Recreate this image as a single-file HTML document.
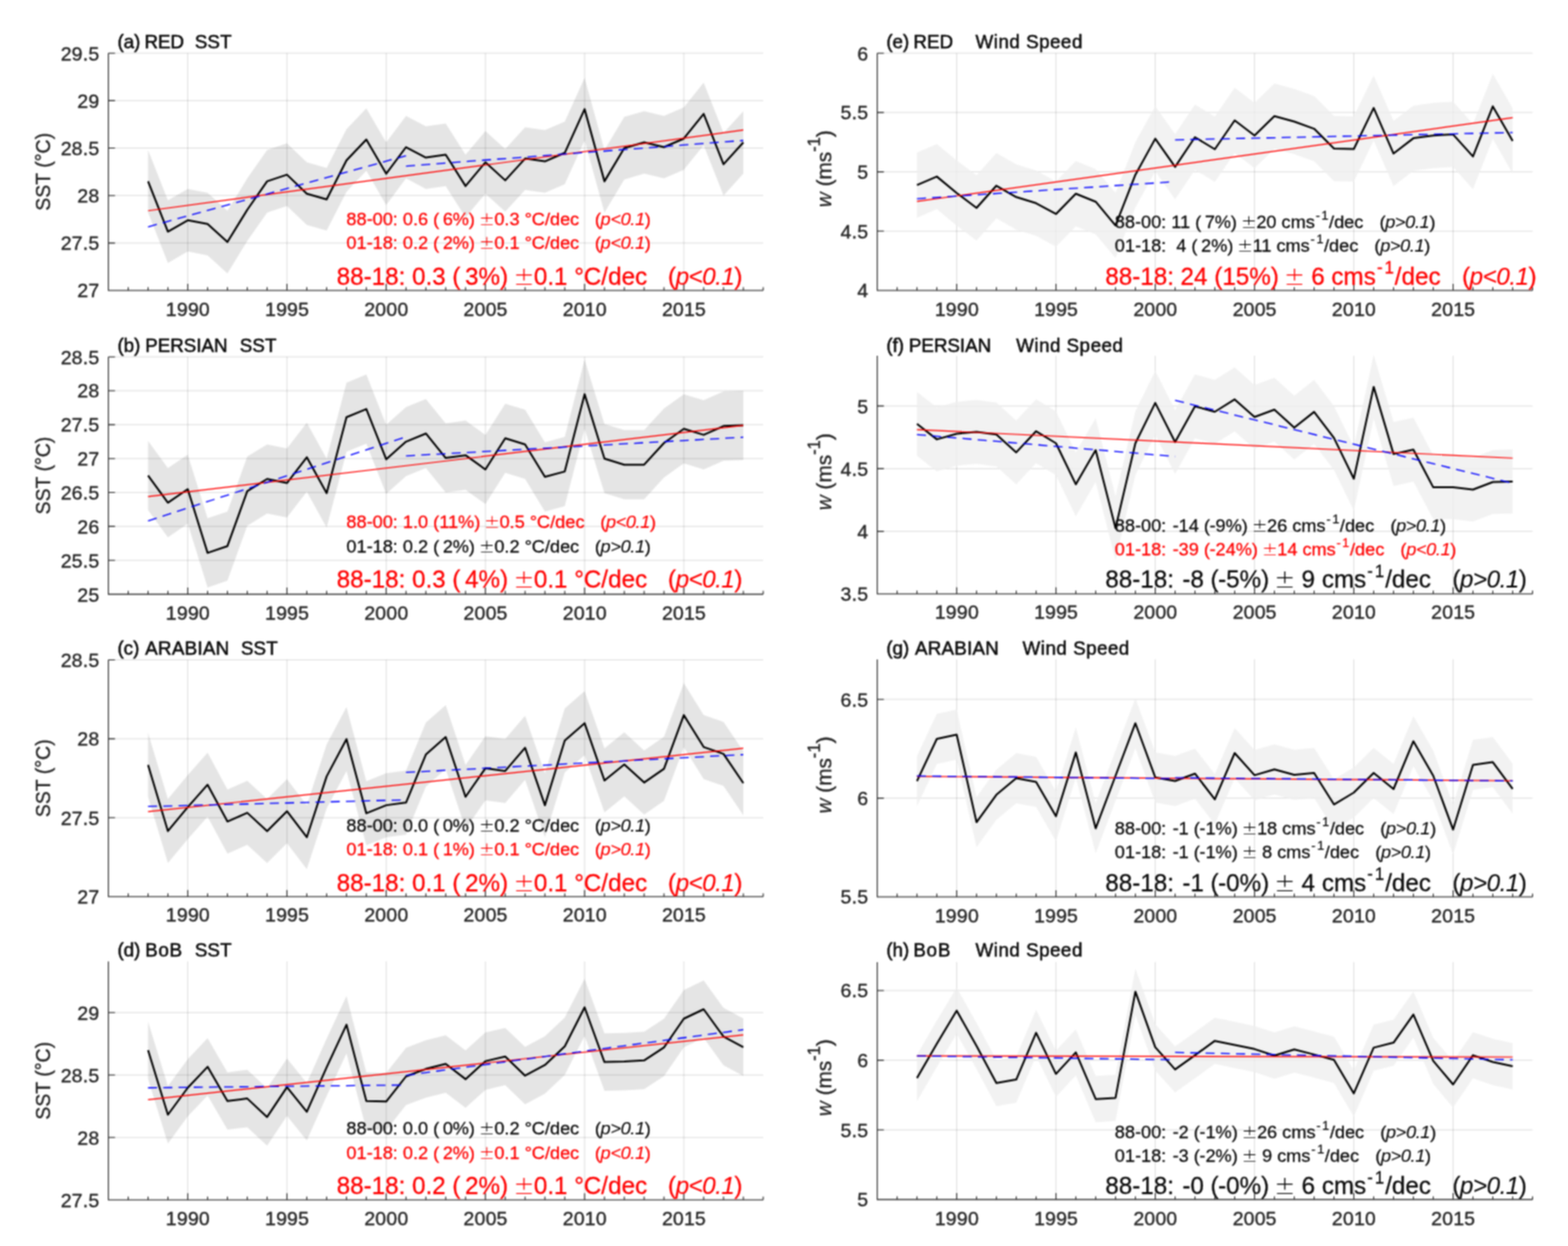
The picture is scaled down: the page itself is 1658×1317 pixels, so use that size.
<!DOCTYPE html>
<html lang="en"><head><meta charset="utf-8"><title>SST and wind speed trends</title>
<style>html,body{margin:0;padding:0;background:#fff;}body{width:1658px;height:1317px;overflow:hidden;}svg{display:block;}text{font-family:'Liberation Sans', sans-serif;white-space:pre;stroke-width:0.28px;stroke-linejoin:round;}.a{fill:#262626;stroke:#262626;stroke-width:0.38px;}.k{fill:#0a0a0a;stroke:#0a0a0a;}.ti{stroke-width:0.5px;}.r{fill:#ff0000;stroke:#ff0000;}.t{letter-spacing:0.2px;}.pm{font-family:"DejaVu Sans Light","DejaVu Sans",sans-serif;font-weight:200;stroke:none;}.i{font-style:italic;stroke-width:0.12px;}</style>
</head><body>
<svg width="1658" height="1317" viewBox="0 0 1658 1317">
<defs><filter id="soft" x="0" y="0" width="1658" height="1317" filterUnits="userSpaceOnUse" color-interpolation-filters="sRGB"><feConvolveMatrix order="3" kernelMatrix="1 2 1 2 4 2 1 2 1" divisor="16" edgeMode="duplicate" preserveAlpha="true"/></filter></defs>
<rect x="0" y="0" width="1658" height="1317" fill="#ffffff"/>
<g filter="url(#soft)">
<rect x="0" y="0" width="1658" height="1317" fill="#ffffff"/>
<g>
<polygon points="156.56,158.53 177.55,211.7 198.53,199.66 219.51,203.67 240.49,222.73 261.47,188.62 282.45,158.53 303.44,151.5 324.42,171.57 345.4,177.59 366.38,136.46 387.36,114.39 408.35,150.5 429.33,122.41 450.31,133.45 471.29,130.44 492.27,163.54 513.25,138.46 534.24,157.52 555.22,134.45 576.2,137.46 597.18,128.43 618.16,82.28 639.15,158.53 660.13,123.41 681.11,117.4 702.09,122.41 723.07,113.38 744.05,87.3 765.04,140.47 786.02,117.4 786.02,183.61 765.04,206.68 744.05,153.51 723.07,179.59 702.09,188.62 681.11,183.61 660.13,189.63 639.15,224.74 618.16,148.49 597.18,194.64 576.2,203.67 555.22,200.66 534.24,223.73 513.25,204.67 492.27,229.75 471.29,196.65 450.31,199.66 429.33,188.62 408.35,216.71 387.36,180.6 366.38,202.67 345.4,243.8 324.42,237.78 303.44,217.72 282.45,224.74 261.47,254.83 240.49,288.94 219.51,269.88 198.53,265.87 177.55,277.91 156.56,224.74" fill="#000" fill-opacity="0.1"/>
<path d="M198.53 56.2V307M303.44 56.2V307M408.35 56.2V307M513.25 56.2V307M618.16 56.2V307M723.07 56.2V307M114.6 307H807M114.6 256.84H807M114.6 206.68H807M114.6 156.52H807M114.6 106.36H807M114.6 56.2H807" stroke="#262626" stroke-opacity="0.15" stroke-width="1" fill="none"/>
<polyline points="156.56,191.63 177.55,244.8 198.53,232.76 219.51,236.78 240.49,255.84 261.47,221.73 282.45,191.63 303.44,184.61 324.42,204.67 345.4,210.69 366.38,169.56 387.36,147.49 408.35,183.61 429.33,155.52 450.31,166.55 471.29,163.54 492.27,196.65 513.25,171.57 534.24,190.63 555.22,167.56 576.2,170.56 597.18,161.54 618.16,115.39 639.15,191.63 660.13,156.52 681.11,150.5 702.09,155.52 723.07,146.49 744.05,120.4 765.04,173.57 786.02,150.5" fill="none" stroke="#000" stroke-width="2" stroke-linejoin="round"/>
<line x1="156.56" y1="222.73" x2="786.02" y2="137.46" stroke="#ff0000" stroke-width="1.2"/>
<line x1="156.56" y1="239.79" x2="429.33" y2="164.55" stroke="#0000ff" stroke-width="1.3" stroke-dasharray="9.6 6.5"/>
<line x1="429.33" y1="175.58" x2="786.02" y2="148.49" stroke="#0000ff" stroke-width="1.3" stroke-dasharray="9.6 6.5"/>
<path d="M114.6 56.2V307H807M135.58 307v-3.5M156.56 307v-3.5M177.55 307v-3.5M198.53 307v-7M219.51 307v-3.5M240.49 307v-3.5M261.47 307v-3.5M282.45 307v-3.5M303.44 307v-7M324.42 307v-3.5M345.4 307v-3.5M366.38 307v-3.5M387.36 307v-3.5M408.35 307v-7M429.33 307v-3.5M450.31 307v-3.5M471.29 307v-3.5M492.27 307v-3.5M513.25 307v-7M534.24 307v-3.5M555.22 307v-3.5M576.2 307v-3.5M597.18 307v-3.5M618.16 307v-7M639.15 307v-3.5M660.13 307v-3.5M681.11 307v-3.5M702.09 307v-3.5M723.07 307v-7M744.05 307v-3.5M765.04 307v-3.5M786.02 307v-3.5M807 307v-3.5M114.6 307h7M114.6 256.84h7M114.6 206.68h7M114.6 156.52h7M114.6 106.36h7M114.6 56.2h7" stroke="#303030" stroke-width="1.1" fill="none"/>
<text xml:space="preserve" x="198.68" y="333.6" font-size="20.6" text-anchor="middle" class="a t">1990</text>
<text xml:space="preserve" x="303.59" y="333.6" font-size="20.6" text-anchor="middle" class="a t">1995</text>
<text xml:space="preserve" x="408.5" y="333.6" font-size="20.6" text-anchor="middle" class="a t">2000</text>
<text xml:space="preserve" x="513.4" y="333.6" font-size="20.6" text-anchor="middle" class="a t">2005</text>
<text xml:space="preserve" x="618.31" y="333.6" font-size="20.6" text-anchor="middle" class="a t">2010</text>
<text xml:space="preserve" x="723.22" y="333.6" font-size="20.6" text-anchor="middle" class="a t">2015</text>
<text xml:space="preserve" x="105.1" y="314.4" font-size="20.6" text-anchor="end" class="a t">27</text>
<text xml:space="preserve" x="105.1" y="264.24" font-size="20.6" text-anchor="end" class="a t">27.5</text>
<text xml:space="preserve" x="105.1" y="214.08" font-size="20.6" text-anchor="end" class="a t">28</text>
<text xml:space="preserve" x="105.1" y="163.92" font-size="20.6" text-anchor="end" class="a t">28.5</text>
<text xml:space="preserve" x="105.1" y="113.76" font-size="20.6" text-anchor="end" class="a t">29</text>
<text xml:space="preserve" x="105.1" y="63.6" font-size="20.6" text-anchor="end" class="a t">29.5</text>
<text xml:space="preserve" y="51.1" font-size="19.9" class="k ti"><tspan x="124.2">(a) </tspan><tspan x="152.7" style="letter-spacing:0px">RED</tspan><tspan>  </tspan><tspan x="206" style="letter-spacing:0.1px">SST</tspan></text>
<text xml:space="preserve" transform="translate(52.7 181.6) rotate(-90) scale(0.92 1)" font-size="22.4" text-anchor="middle" class="a">SST (°C)</text>
<text xml:space="preserve" y="237.6" font-size="19.2" class="r"><tspan x="366.3">88-00: 0.6 (<tspan dx="-1.63"> </tspan>6%) </tspan><tspan x="506.53" class="pm" font-size="19.78">±</tspan><tspan x="522.63">0.3 °C/dec   </tspan><tspan x="629.08" style="letter-spacing:-0.38px">(<tspan class="i">p&lt;0.1</tspan>)</tspan></text>
<text xml:space="preserve" y="262.9" font-size="19.2" class="r"><tspan x="366.3">01-18: 0.2 (<tspan dx="-1.63"> </tspan>2%) </tspan><tspan x="506.53" class="pm" font-size="19.78">±</tspan><tspan x="522.63">0.1 °C/dec   </tspan><tspan x="629.08" style="letter-spacing:-0.38px">(<tspan class="i">p&lt;0.1</tspan>)</tspan></text>
<text xml:space="preserve" y="300.6" font-size="25.6" class="r"><tspan x="356">88-18: 0.3 (<tspan dx="-2.18"> </tspan>3%) </tspan><tspan x="542.88" class="pm" font-size="26.37">±</tspan><tspan x="564.45">0.1 °C/dec   </tspan><tspan x="706.37" style="letter-spacing:-0.51px">(<tspan class="i">p&lt;0.1</tspan>)</tspan></text>
</g>
<g>
<polygon points="156.56,466.09 177.55,494.76 198.53,480.43 219.51,547.81 240.49,540.64 261.47,482.58 282.45,469.67 303.44,473.98 324.42,446.74 345.4,484.73 366.38,404.44 387.36,395.84 408.35,448.89 429.33,430.25 450.31,421.65 471.29,447.45 492.27,444.58 513.25,459.64 534.24,426.66 555.22,433.11 576.2,467.52 597.18,461.79 618.16,380.07 639.15,448.17 660.13,454.62 681.11,454.62 702.09,431.68 723.07,416.63 744.05,423.08 765.04,413.76 786.02,413.04 786.02,486.16 765.04,486.88 744.05,496.2 723.07,489.75 702.09,504.8 681.11,527.74 660.13,527.74 639.15,521.29 618.16,453.19 597.18,534.91 576.2,540.64 555.22,506.23 534.24,499.78 513.25,532.76 492.27,517.7 471.29,520.57 450.31,494.76 429.33,503.37 408.35,522.01 387.36,468.96 366.38,477.56 345.4,557.85 324.42,519.85 303.44,547.1 282.45,542.79 261.47,555.7 240.49,613.76 219.51,620.93 198.53,553.55 177.55,567.88 156.56,539.21" fill="#000" fill-opacity="0.1"/>
<path d="M198.53 377.2V628.1M303.44 377.2V628.1M408.35 377.2V628.1M513.25 377.2V628.1M618.16 377.2V628.1M723.07 377.2V628.1M114.6 628.1H807M114.6 592.26H807M114.6 556.41H807M114.6 520.57H807M114.6 484.73H807M114.6 448.89H807M114.6 413.04H807M114.6 377.2H807" stroke="#262626" stroke-opacity="0.15" stroke-width="1" fill="none"/>
<polyline points="156.56,502.65 177.55,531.32 198.53,516.99 219.51,584.37 240.49,577.2 261.47,519.14 282.45,506.23 303.44,510.54 324.42,483.29 345.4,521.29 366.38,441 387.36,432.4 408.35,485.45 429.33,466.81 450.31,458.2 471.29,484.01 492.27,481.14 513.25,496.2 534.24,463.22 555.22,469.67 576.2,504.08 597.18,498.35 618.16,416.63 639.15,484.73 660.13,491.18 681.11,491.18 702.09,468.24 723.07,453.19 744.05,459.64 765.04,450.32 786.02,449.6" fill="none" stroke="#000" stroke-width="2" stroke-linejoin="round"/>
<line x1="156.56" y1="524.87" x2="786.02" y2="449.6" stroke="#ff0000" stroke-width="1.2"/>
<line x1="156.56" y1="550.68" x2="429.33" y2="461.79" stroke="#0000ff" stroke-width="1.3" stroke-dasharray="9.6 6.5"/>
<line x1="429.33" y1="481.86" x2="786.02" y2="462.15" stroke="#0000ff" stroke-width="1.3" stroke-dasharray="9.6 6.5"/>
<path d="M114.6 377.2V628.1H807M135.58 628.1v-3.5M156.56 628.1v-3.5M177.55 628.1v-3.5M198.53 628.1v-7M219.51 628.1v-3.5M240.49 628.1v-3.5M261.47 628.1v-3.5M282.45 628.1v-3.5M303.44 628.1v-7M324.42 628.1v-3.5M345.4 628.1v-3.5M366.38 628.1v-3.5M387.36 628.1v-3.5M408.35 628.1v-7M429.33 628.1v-3.5M450.31 628.1v-3.5M471.29 628.1v-3.5M492.27 628.1v-3.5M513.25 628.1v-7M534.24 628.1v-3.5M555.22 628.1v-3.5M576.2 628.1v-3.5M597.18 628.1v-3.5M618.16 628.1v-7M639.15 628.1v-3.5M660.13 628.1v-3.5M681.11 628.1v-3.5M702.09 628.1v-3.5M723.07 628.1v-7M744.05 628.1v-3.5M765.04 628.1v-3.5M786.02 628.1v-3.5M807 628.1v-3.5M114.6 628.1h7M114.6 592.26h7M114.6 556.41h7M114.6 520.57h7M114.6 484.73h7M114.6 448.89h7M114.6 413.04h7M114.6 377.2h7" stroke="#303030" stroke-width="1.1" fill="none"/>
<text xml:space="preserve" x="198.68" y="654.7" font-size="20.6" text-anchor="middle" class="a t">1990</text>
<text xml:space="preserve" x="303.59" y="654.7" font-size="20.6" text-anchor="middle" class="a t">1995</text>
<text xml:space="preserve" x="408.5" y="654.7" font-size="20.6" text-anchor="middle" class="a t">2000</text>
<text xml:space="preserve" x="513.4" y="654.7" font-size="20.6" text-anchor="middle" class="a t">2005</text>
<text xml:space="preserve" x="618.31" y="654.7" font-size="20.6" text-anchor="middle" class="a t">2010</text>
<text xml:space="preserve" x="723.22" y="654.7" font-size="20.6" text-anchor="middle" class="a t">2015</text>
<text xml:space="preserve" x="105.1" y="635.5" font-size="20.6" text-anchor="end" class="a t">25</text>
<text xml:space="preserve" x="105.1" y="599.66" font-size="20.6" text-anchor="end" class="a t">25.5</text>
<text xml:space="preserve" x="105.1" y="563.81" font-size="20.6" text-anchor="end" class="a t">26</text>
<text xml:space="preserve" x="105.1" y="527.97" font-size="20.6" text-anchor="end" class="a t">26.5</text>
<text xml:space="preserve" x="105.1" y="492.13" font-size="20.6" text-anchor="end" class="a t">27</text>
<text xml:space="preserve" x="105.1" y="456.29" font-size="20.6" text-anchor="end" class="a t">27.5</text>
<text xml:space="preserve" x="105.1" y="420.44" font-size="20.6" text-anchor="end" class="a t">28</text>
<text xml:space="preserve" x="105.1" y="384.6" font-size="20.6" text-anchor="end" class="a t">28.5</text>
<text xml:space="preserve" y="371.95" font-size="19.9" class="k ti"><tspan x="124.2">(b) </tspan><tspan x="153.4" style="letter-spacing:0px">PERSIAN</tspan><tspan>  </tspan><tspan x="253.5" style="letter-spacing:0.1px">SST</tspan></text>
<text xml:space="preserve" transform="translate(52.7 502.65) rotate(-90) scale(0.92 1)" font-size="22.4" text-anchor="middle" class="a">SST (°C)</text>
<text xml:space="preserve" y="558.4" font-size="19.2" class="r"><tspan x="366.3">88-00: 1.0 (11%) </tspan><tspan x="512.09" class="pm" font-size="19.78">±</tspan><tspan x="528.19">0.5 °C/dec   </tspan><tspan x="634.63" style="letter-spacing:-0.38px">(<tspan class="i">p&lt;0.1</tspan>)</tspan></text>
<text xml:space="preserve" y="583.7" font-size="19.2" class="k"><tspan x="366.3">01-18: 0.2 (<tspan dx="-1.63"> </tspan>2%) </tspan><tspan x="506.53" class="pm" font-size="19.78">±</tspan><tspan x="522.63">0.2 °C/dec   </tspan><tspan x="629.08" style="letter-spacing:-0.38px">(<tspan class="i">p&gt;0.1</tspan>)</tspan></text>
<text xml:space="preserve" y="621.4" font-size="25.6" class="r"><tspan x="356">88-18: 0.3 (<tspan dx="-2.18"> </tspan>4%) </tspan><tspan x="542.88" class="pm" font-size="26.37">±</tspan><tspan x="564.45">0.1 °C/dec   </tspan><tspan x="706.37" style="letter-spacing:-0.51px">(<tspan class="i">p&lt;0.1</tspan>)</tspan></text>
</g>
<g>
<polygon points="156.56,774.56 177.55,844.62 198.53,819.26 219.51,795.58 240.49,834.44 261.47,825.27 282.45,844.62 303.44,823.6 324.42,851.12 345.4,786.74 366.38,747.37 387.36,825.77 408.35,817.26 429.33,814.43 450.31,763.72 471.29,745.2 492.27,808.42 513.25,778.23 534.24,781.07 555.22,756.55 576.2,817.26 597.18,748.87 618.16,730.53 639.15,791.07 660.13,774.06 681.11,793.24 702.09,778.73 723.07,722.02 744.05,755.71 765.04,763.05 786.02,793.91 786.02,861.63 765.04,830.77 744.05,823.43 723.07,789.74 702.09,846.45 681.11,860.96 660.13,841.78 639.15,858.8 618.16,798.25 597.18,816.6 576.2,884.98 555.22,824.27 534.24,848.79 513.25,845.95 492.27,876.14 471.29,812.93 450.31,831.44 429.33,882.15 408.35,884.98 387.36,893.49 366.38,815.09 345.4,854.46 324.42,918.84 303.44,891.32 282.45,912.34 261.47,892.99 240.49,902.16 219.51,863.3 198.53,886.98 177.55,912.34 156.56,842.28" fill="#000" fill-opacity="0.1"/>
<path d="M198.53 697.5V947.7M303.44 697.5V947.7M408.35 697.5V947.7M513.25 697.5V947.7M618.16 697.5V947.7M723.07 697.5V947.7M114.6 947.7H807M114.6 864.3H807M114.6 780.9H807M114.6 697.5H807" stroke="#262626" stroke-opacity="0.15" stroke-width="1" fill="none"/>
<polyline points="156.56,808.42 177.55,878.48 198.53,853.12 219.51,829.44 240.49,868.3 261.47,859.13 282.45,878.48 303.44,857.46 324.42,884.98 345.4,820.6 366.38,781.23 387.36,859.63 408.35,851.12 429.33,848.29 450.31,797.58 471.29,779.07 492.27,842.28 513.25,812.09 534.24,814.93 555.22,790.41 576.2,851.12 597.18,782.73 618.16,764.39 639.15,824.94 660.13,807.92 681.11,827.1 702.09,812.59 723.07,755.88 744.05,789.57 765.04,796.91 786.02,827.77" fill="none" stroke="#000" stroke-width="2" stroke-linejoin="round"/>
<line x1="156.56" y1="857.96" x2="786.02" y2="790.91" stroke="#ff0000" stroke-width="1.2"/>
<line x1="156.56" y1="852.46" x2="429.33" y2="845.45" stroke="#0000ff" stroke-width="1.3" stroke-dasharray="9.6 6.5"/>
<line x1="429.33" y1="816.43" x2="786.02" y2="797.58" stroke="#0000ff" stroke-width="1.3" stroke-dasharray="9.6 6.5"/>
<path d="M114.6 697.5V947.7H807M135.58 947.7v-3.5M156.56 947.7v-3.5M177.55 947.7v-3.5M198.53 947.7v-7M219.51 947.7v-3.5M240.49 947.7v-3.5M261.47 947.7v-3.5M282.45 947.7v-3.5M303.44 947.7v-7M324.42 947.7v-3.5M345.4 947.7v-3.5M366.38 947.7v-3.5M387.36 947.7v-3.5M408.35 947.7v-7M429.33 947.7v-3.5M450.31 947.7v-3.5M471.29 947.7v-3.5M492.27 947.7v-3.5M513.25 947.7v-7M534.24 947.7v-3.5M555.22 947.7v-3.5M576.2 947.7v-3.5M597.18 947.7v-3.5M618.16 947.7v-7M639.15 947.7v-3.5M660.13 947.7v-3.5M681.11 947.7v-3.5M702.09 947.7v-3.5M723.07 947.7v-7M744.05 947.7v-3.5M765.04 947.7v-3.5M786.02 947.7v-3.5M807 947.7v-3.5M114.6 947.7h7M114.6 864.3h7M114.6 780.9h7M114.6 697.5h7" stroke="#303030" stroke-width="1.1" fill="none"/>
<text xml:space="preserve" x="198.68" y="974.3" font-size="20.6" text-anchor="middle" class="a t">1990</text>
<text xml:space="preserve" x="303.59" y="974.3" font-size="20.6" text-anchor="middle" class="a t">1995</text>
<text xml:space="preserve" x="408.5" y="974.3" font-size="20.6" text-anchor="middle" class="a t">2000</text>
<text xml:space="preserve" x="513.4" y="974.3" font-size="20.6" text-anchor="middle" class="a t">2005</text>
<text xml:space="preserve" x="618.31" y="974.3" font-size="20.6" text-anchor="middle" class="a t">2010</text>
<text xml:space="preserve" x="723.22" y="974.3" font-size="20.6" text-anchor="middle" class="a t">2015</text>
<text xml:space="preserve" x="105.1" y="955.1" font-size="20.6" text-anchor="end" class="a t">27</text>
<text xml:space="preserve" x="105.1" y="871.7" font-size="20.6" text-anchor="end" class="a t">27.5</text>
<text xml:space="preserve" x="105.1" y="788.3" font-size="20.6" text-anchor="end" class="a t">28</text>
<text xml:space="preserve" x="105.1" y="704.9" font-size="20.6" text-anchor="end" class="a t">28.5</text>
<text xml:space="preserve" y="692" font-size="19.9" class="k ti"><tspan x="124.2">(c) </tspan><tspan x="153.6" style="letter-spacing:0.25px">ARABIAN</tspan><tspan>  </tspan><tspan x="254.7" style="letter-spacing:0.1px">SST</tspan></text>
<text xml:space="preserve" transform="translate(52.7 822.6) rotate(-90) scale(0.92 1)" font-size="22.4" text-anchor="middle" class="a">SST (°C)</text>
<text xml:space="preserve" y="878.5" font-size="19.2" class="k"><tspan x="366.3">88-00: 0.0 (<tspan dx="-1.63"> </tspan>0%) </tspan><tspan x="506.53" class="pm" font-size="19.78">±</tspan><tspan x="522.63">0.2 °C/dec   </tspan><tspan x="629.08" style="letter-spacing:-0.38px">(<tspan class="i">p&gt;0.1</tspan>)</tspan></text>
<text xml:space="preserve" y="903.8" font-size="19.2" class="r"><tspan x="366.3">01-18: 0.1 (<tspan dx="-1.63"> </tspan>1%) </tspan><tspan x="506.53" class="pm" font-size="19.78">±</tspan><tspan x="522.63">0.1 °C/dec   </tspan><tspan x="629.08" style="letter-spacing:-0.38px">(<tspan class="i">p&gt;0.1</tspan>)</tspan></text>
<text xml:space="preserve" y="941.5" font-size="25.6" class="r"><tspan x="356">88-18: 0.1 (<tspan dx="-2.18"> </tspan>2%) </tspan><tspan x="542.88" class="pm" font-size="26.37">±</tspan><tspan x="564.45">0.1 °C/dec   </tspan><tspan x="706.37" style="letter-spacing:-0.51px">(<tspan class="i">p&lt;0.1</tspan>)</tspan></text>
</g>
<g>
<polygon points="156.56,1079.66 177.55,1147.91 198.53,1119.4 219.51,1097.22 240.49,1133.39 261.47,1130.75 282.45,1150.29 303.44,1118.74 324.42,1144.74 345.4,1097.75 366.38,1052.73 387.36,1133.39 408.35,1133.92 429.33,1107.38 450.31,1099.46 471.29,1094.18 492.27,1110.29 513.25,1091.28 534.24,1086.4 555.22,1106.59 576.2,1095.37 597.18,1075.57 618.16,1034.38 639.15,1092.2 660.13,1091.68 681.11,1090.49 702.09,1076.76 723.07,1046.4 744.05,1036.36 765.04,1065.27 786.02,1076.49 786.02,1137.22 765.04,1126 744.05,1097.09 723.07,1107.12 702.09,1137.48 681.11,1151.21 660.13,1152.4 639.15,1152.93 618.16,1095.11 597.18,1136.29 576.2,1156.09 555.22,1167.32 534.24,1147.12 513.25,1152 492.27,1171.01 471.29,1154.91 450.31,1160.19 429.33,1168.11 408.35,1194.64 387.36,1194.11 366.38,1113.46 345.4,1158.47 324.42,1205.47 303.44,1179.46 282.45,1211.01 261.47,1191.47 240.49,1194.11 219.51,1157.94 198.53,1180.12 177.55,1208.63 156.56,1140.39" fill="#000" fill-opacity="0.1"/>
<path d="M198.53 1016.3V1268.3M303.44 1016.3V1268.3M408.35 1016.3V1268.3M513.25 1016.3V1268.3M618.16 1016.3V1268.3M723.07 1016.3V1268.3M114.6 1268.3H807M114.6 1202.3H807M114.6 1136.29H807M114.6 1070.29H807" stroke="#262626" stroke-opacity="0.15" stroke-width="1" fill="none"/>
<polyline points="156.56,1110.02 177.55,1178.27 198.53,1149.76 219.51,1127.58 240.49,1163.75 261.47,1161.11 282.45,1180.65 303.44,1149.1 324.42,1175.1 345.4,1128.11 366.38,1083.1 387.36,1163.75 408.35,1164.28 429.33,1137.75 450.31,1129.83 471.29,1124.55 492.27,1140.65 513.25,1121.64 534.24,1116.76 555.22,1136.95 576.2,1125.73 597.18,1105.93 618.16,1064.75 639.15,1122.57 660.13,1122.04 681.11,1120.85 702.09,1107.12 723.07,1076.76 744.05,1066.73 765.04,1095.64 786.02,1106.86" fill="none" stroke="#000" stroke-width="2" stroke-linejoin="round"/>
<line x1="156.56" y1="1162.3" x2="786.02" y2="1093.92" stroke="#ff0000" stroke-width="1.2"/>
<line x1="156.56" y1="1149.76" x2="429.33" y2="1146.85" stroke="#0000ff" stroke-width="1.3" stroke-dasharray="9.6 6.5"/>
<line x1="429.33" y1="1136.56" x2="786.02" y2="1088.38" stroke="#0000ff" stroke-width="1.3" stroke-dasharray="9.6 6.5"/>
<path d="M114.6 1016.3V1268.3H807M135.58 1268.3v-3.5M156.56 1268.3v-3.5M177.55 1268.3v-3.5M198.53 1268.3v-7M219.51 1268.3v-3.5M240.49 1268.3v-3.5M261.47 1268.3v-3.5M282.45 1268.3v-3.5M303.44 1268.3v-7M324.42 1268.3v-3.5M345.4 1268.3v-3.5M366.38 1268.3v-3.5M387.36 1268.3v-3.5M408.35 1268.3v-7M429.33 1268.3v-3.5M450.31 1268.3v-3.5M471.29 1268.3v-3.5M492.27 1268.3v-3.5M513.25 1268.3v-7M534.24 1268.3v-3.5M555.22 1268.3v-3.5M576.2 1268.3v-3.5M597.18 1268.3v-3.5M618.16 1268.3v-7M639.15 1268.3v-3.5M660.13 1268.3v-3.5M681.11 1268.3v-3.5M702.09 1268.3v-3.5M723.07 1268.3v-7M744.05 1268.3v-3.5M765.04 1268.3v-3.5M786.02 1268.3v-3.5M807 1268.3v-3.5M114.6 1268.3h7M114.6 1202.3h7M114.6 1136.29h7M114.6 1070.29h7" stroke="#303030" stroke-width="1.1" fill="none"/>
<text xml:space="preserve" x="198.68" y="1294.9" font-size="20.6" text-anchor="middle" class="a t">1990</text>
<text xml:space="preserve" x="303.59" y="1294.9" font-size="20.6" text-anchor="middle" class="a t">1995</text>
<text xml:space="preserve" x="408.5" y="1294.9" font-size="20.6" text-anchor="middle" class="a t">2000</text>
<text xml:space="preserve" x="513.4" y="1294.9" font-size="20.6" text-anchor="middle" class="a t">2005</text>
<text xml:space="preserve" x="618.31" y="1294.9" font-size="20.6" text-anchor="middle" class="a t">2010</text>
<text xml:space="preserve" x="723.22" y="1294.9" font-size="20.6" text-anchor="middle" class="a t">2015</text>
<text xml:space="preserve" x="105.1" y="1275.7" font-size="20.6" text-anchor="end" class="a t">27.5</text>
<text xml:space="preserve" x="105.1" y="1209.7" font-size="20.6" text-anchor="end" class="a t">28</text>
<text xml:space="preserve" x="105.1" y="1143.69" font-size="20.6" text-anchor="end" class="a t">28.5</text>
<text xml:space="preserve" x="105.1" y="1077.69" font-size="20.6" text-anchor="end" class="a t">29</text>
<text xml:space="preserve" y="1011.4" font-size="19.9" class="k ti"><tspan x="124.2">(d) </tspan><tspan x="153.4" style="letter-spacing:0.8px">BoB</tspan><tspan>  </tspan><tspan x="206" style="letter-spacing:0.1px">SST</tspan></text>
<text xml:space="preserve" transform="translate(52.7 1142.3) rotate(-90) scale(0.92 1)" font-size="22.4" text-anchor="middle" class="a">SST (°C)</text>
<text xml:space="preserve" y="1199.4" font-size="19.2" class="k"><tspan x="366.3">88-00: 0.0 (<tspan dx="-1.63"> </tspan>0%) </tspan><tspan x="506.53" class="pm" font-size="19.78">±</tspan><tspan x="522.63">0.2 °C/dec   </tspan><tspan x="629.08" style="letter-spacing:-0.38px">(<tspan class="i">p&gt;0.1</tspan>)</tspan></text>
<text xml:space="preserve" y="1224.7" font-size="19.2" class="r"><tspan x="366.3">01-18: 0.2 (<tspan dx="-1.63"> </tspan>2%) </tspan><tspan x="506.53" class="pm" font-size="19.78">±</tspan><tspan x="522.63">0.1 °C/dec   </tspan><tspan x="629.08" style="letter-spacing:-0.38px">(<tspan class="i">p&lt;0.1</tspan>)</tspan></text>
<text xml:space="preserve" y="1262.4" font-size="25.6" class="r"><tspan x="356">88-18: 0.2 (<tspan dx="-2.18"> </tspan>2%) </tspan><tspan x="542.88" class="pm" font-size="26.37">±</tspan><tspan x="564.45">0.1 °C/dec   </tspan><tspan x="706.37" style="letter-spacing:-0.51px">(<tspan class="i">p&lt;0.1</tspan>)</tspan></text>
</g>
<g>
<path d="M1011.59 56.2V307M1116.57 56.2V307M1221.56 56.2V307M1326.54 56.2V307M1431.53 56.2V307M1536.51 56.2V307M927.6 307H1620.5M927.6 244.3H1620.5M927.6 181.6H1620.5M927.6 118.9H1620.5M927.6 56.2H1620.5" stroke="#262626" stroke-opacity="0.15" stroke-width="1" fill="none"/>
<polygon points="969.59,161.16 990.59,152.13 1011.59,169.56 1032.58,185.24 1053.58,161.79 1074.58,173.83 1095.58,180.35 1116.57,191.76 1137.57,170.31 1158.57,178.72 1179.56,203.8 1200.56,150.25 1221.56,112.13 1242.55,141.85 1263.55,110.5 1284.55,123.29 1305.55,92.82 1326.54,108.74 1347.54,88.3 1368.54,94.07 1389.53,101.59 1410.53,122.54 1431.53,123.04 1452.52,79.65 1473.52,127.8 1494.52,111.63 1515.52,108.74 1536.51,107.61 1557.51,130.94 1578.51,77.89 1599.5,114.51 1599.5,183.48 1578.51,146.86 1557.51,199.91 1536.51,176.58 1515.52,177.71 1494.52,180.6 1473.52,196.77 1452.52,148.62 1431.53,192.01 1410.53,191.51 1389.53,170.56 1368.54,163.04 1347.54,157.27 1326.54,177.71 1305.55,161.79 1284.55,192.26 1263.55,179.47 1242.55,210.82 1221.56,181.1 1200.56,219.22 1179.56,272.77 1158.57,247.69 1137.57,239.28 1116.57,260.73 1095.58,249.32 1074.58,242.8 1053.58,230.76 1032.58,254.21 1011.59,238.53 990.59,221.1 969.59,230.13" fill="#eeeeee" fill-opacity="0.76"/>
<polyline points="969.59,195.64 990.59,186.62 1011.59,204.05 1032.58,219.72 1053.58,196.27 1074.58,208.31 1095.58,214.83 1116.57,226.24 1137.57,204.8 1158.57,213.2 1179.56,238.28 1200.56,184.74 1221.56,146.61 1242.55,176.33 1263.55,144.98 1284.55,157.77 1305.55,127.3 1326.54,143.23 1347.54,122.79 1368.54,128.56 1389.53,136.08 1410.53,157.02 1431.53,157.52 1452.52,114.13 1473.52,162.29 1494.52,146.11 1515.52,143.23 1536.51,142.1 1557.51,165.42 1578.51,112.38 1599.5,149" fill="none" stroke="#000" stroke-width="2" stroke-linejoin="round"/>
<line x1="969.59" y1="212.95" x2="1599.5" y2="124.42" stroke="#ff0000" stroke-width="1.2"/>
<line x1="969.59" y1="210.07" x2="1242.55" y2="192.01" stroke="#0000ff" stroke-width="1.3" stroke-dasharray="9.6 6.5"/>
<line x1="1242.55" y1="147.87" x2="1599.5" y2="140.09" stroke="#0000ff" stroke-width="1.3" stroke-dasharray="9.6 6.5"/>
<path d="M927.6 56.2V307H1620.5M948.6 307v-3.5M969.59 307v-3.5M990.59 307v-3.5M1011.59 307v-7M1032.58 307v-3.5M1053.58 307v-3.5M1074.58 307v-3.5M1095.58 307v-3.5M1116.57 307v-7M1137.57 307v-3.5M1158.57 307v-3.5M1179.56 307v-3.5M1200.56 307v-3.5M1221.56 307v-7M1242.55 307v-3.5M1263.55 307v-3.5M1284.55 307v-3.5M1305.55 307v-3.5M1326.54 307v-7M1347.54 307v-3.5M1368.54 307v-3.5M1389.53 307v-3.5M1410.53 307v-3.5M1431.53 307v-7M1452.52 307v-3.5M1473.52 307v-3.5M1494.52 307v-3.5M1515.52 307v-3.5M1536.51 307v-7M1557.51 307v-3.5M1578.51 307v-3.5M1599.5 307v-3.5M1620.5 307v-3.5M927.6 307h7M927.6 244.3h7M927.6 181.6h7M927.6 118.9h7M927.6 56.2h7" stroke="#303030" stroke-width="1.1" fill="none"/>
<text xml:space="preserve" x="1011.74" y="333.6" font-size="20.6" text-anchor="middle" class="a t">1990</text>
<text xml:space="preserve" x="1116.72" y="333.6" font-size="20.6" text-anchor="middle" class="a t">1995</text>
<text xml:space="preserve" x="1221.71" y="333.6" font-size="20.6" text-anchor="middle" class="a t">2000</text>
<text xml:space="preserve" x="1326.69" y="333.6" font-size="20.6" text-anchor="middle" class="a t">2005</text>
<text xml:space="preserve" x="1431.68" y="333.6" font-size="20.6" text-anchor="middle" class="a t">2010</text>
<text xml:space="preserve" x="1536.66" y="333.6" font-size="20.6" text-anchor="middle" class="a t">2015</text>
<text xml:space="preserve" x="918.1" y="314.4" font-size="20.6" text-anchor="end" class="a t">4</text>
<text xml:space="preserve" x="918.1" y="251.7" font-size="20.6" text-anchor="end" class="a t">4.5</text>
<text xml:space="preserve" x="918.1" y="189" font-size="20.6" text-anchor="end" class="a t">5</text>
<text xml:space="preserve" x="918.1" y="126.3" font-size="20.6" text-anchor="end" class="a t">5.5</text>
<text xml:space="preserve" x="918.1" y="63.6" font-size="20.6" text-anchor="end" class="a t">6</text>
<text xml:space="preserve" y="51.1" font-size="19.9" class="k ti"><tspan x="937.2">(e) </tspan><tspan x="965.8" style="letter-spacing:0px">RED</tspan><tspan>    </tspan><tspan x="1031.6" style="letter-spacing:0.5px">Wind Speed</tspan></text>
<text xml:space="preserve" transform="translate(878.7 178.3) rotate(-90) scale(0.98 1)" font-size="22.4" text-anchor="middle" class="a"><tspan class="i">w</tspan> (ms<tspan font-size="17.92" dy="-11.7">-1</tspan><tspan dy="11.7">)</tspan></text>
<text xml:space="preserve" y="240.9" font-size="19.2" class="k"><tspan x="1178.8">88-00: 11 (<tspan dx="-1.63"> </tspan>7%) </tspan><tspan x="1312.28" class="pm" font-size="19.78">±</tspan><tspan x="1328.38">20 cms</tspan><tspan x="1391.15" dy="-8.74" font-size="13.44" style="letter-spacing:1.61px">-1</tspan><tspan x="1405.37" dy="8.74">/dec   </tspan><tspan x="1458.71" style="letter-spacing:-0.38px">(<tspan class="i">p&gt;0.1</tspan>)</tspan></text>
<text xml:space="preserve" y="265.9" font-size="19.2" class="k"><tspan x="1178.8">01-18:  4 (<tspan dx="-1.63"> </tspan>2%) </tspan><tspan x="1308.36" class="pm" font-size="19.78">±</tspan><tspan x="1324.46">11 cms</tspan><tspan x="1385.8" dy="-8.74" font-size="13.44" style="letter-spacing:1.61px">-1</tspan><tspan x="1400.03" dy="8.74">/dec   </tspan><tspan x="1453.36" style="letter-spacing:-0.38px">(<tspan class="i">p&gt;0.1</tspan>)</tspan></text>
<text xml:space="preserve" y="300.6" font-size="25.6" class="r"><tspan x="1168.7">88-18: 24 (15%) </tspan><tspan x="1357.77" class="pm" font-size="26.37">±</tspan><tspan x="1379.33"> 6 cms</tspan><tspan x="1455.9" dy="-11.65" font-size="17.92" style="letter-spacing:2.15px">-1</tspan><tspan x="1474.87" dy="11.65">/dec   </tspan><tspan x="1545.99" style="letter-spacing:-0.51px">(<tspan class="i">p&lt;0.1</tspan>)</tspan></text>
</g>
<g>
<path d="M1011.59 376.05V627.8M1116.57 376.05V627.8M1221.56 376.05V627.8M1326.54 376.05V627.8M1431.53 376.05V627.8M1536.51 376.05V627.8M927.6 627.8H1620.5M927.6 561.58H1620.5M927.6 495.37H1620.5M927.6 429.15H1620.5" stroke="#262626" stroke-opacity="0.15" stroke-width="1" fill="none"/>
<polygon points="969.59,414.19 990.59,430.61 1011.59,424.65 1032.58,422.67 1053.58,425.58 1074.58,444.38 1095.58,422 1116.57,434.72 1137.57,478.15 1158.57,442 1179.56,524.5 1200.56,434.72 1221.56,392.07 1242.55,433.52 1263.55,395.65 1284.55,401.48 1305.55,388.37 1326.54,407.04 1347.54,399.23 1368.54,418.3 1389.53,401.61 1410.53,429.15 1431.53,472.19 1452.52,375.12 1473.52,446.11 1494.52,441.47 1515.52,481.33 1536.51,481.33 1557.51,483.72 1578.51,475.77 1599.5,475.11 1599.5,542.65 1578.51,543.31 1557.51,551.26 1536.51,548.87 1515.52,548.87 1494.52,509.01 1473.52,513.65 1452.52,442.66 1431.53,539.73 1410.53,496.69 1389.53,469.15 1368.54,485.83 1347.54,466.76 1326.54,474.58 1305.55,455.91 1284.55,469.02 1263.55,463.19 1242.55,501.06 1221.56,459.61 1200.56,502.26 1179.56,592.04 1158.57,509.54 1137.57,545.69 1116.57,502.26 1095.58,489.54 1074.58,511.92 1053.58,493.12 1032.58,490.2 1011.59,492.19 990.59,498.15 969.59,481.73" fill="#eeeeee" fill-opacity="0.76"/>
<polyline points="969.59,447.96 990.59,464.38 1011.59,458.42 1032.58,456.44 1053.58,459.35 1074.58,478.15 1095.58,455.77 1116.57,468.49 1137.57,511.92 1158.57,475.77 1179.56,558.27 1200.56,468.49 1221.56,425.84 1242.55,467.29 1263.55,429.42 1284.55,435.25 1305.55,422.14 1326.54,440.81 1347.54,433 1368.54,452.06 1389.53,435.38 1410.53,462.92 1431.53,505.96 1452.52,408.89 1473.52,479.88 1494.52,475.24 1515.52,515.1 1536.51,515.1 1557.51,517.49 1578.51,509.54 1599.5,508.88" fill="none" stroke="#000" stroke-width="2" stroke-linejoin="round"/>
<line x1="969.59" y1="454.05" x2="1599.5" y2="484.25" stroke="#ff0000" stroke-width="1.2"/>
<line x1="969.59" y1="459.35" x2="1242.55" y2="482.52" stroke="#0000ff" stroke-width="1.3" stroke-dasharray="9.6 6.5"/>
<line x1="1242.55" y1="423.2" x2="1599.5" y2="510.73" stroke="#0000ff" stroke-width="1.3" stroke-dasharray="9.6 6.5"/>
<path d="M927.6 376.05V627.8H1620.5M948.6 627.8v-3.5M969.59 627.8v-3.5M990.59 627.8v-3.5M1011.59 627.8v-7M1032.58 627.8v-3.5M1053.58 627.8v-3.5M1074.58 627.8v-3.5M1095.58 627.8v-3.5M1116.57 627.8v-7M1137.57 627.8v-3.5M1158.57 627.8v-3.5M1179.56 627.8v-3.5M1200.56 627.8v-3.5M1221.56 627.8v-7M1242.55 627.8v-3.5M1263.55 627.8v-3.5M1284.55 627.8v-3.5M1305.55 627.8v-3.5M1326.54 627.8v-7M1347.54 627.8v-3.5M1368.54 627.8v-3.5M1389.53 627.8v-3.5M1410.53 627.8v-3.5M1431.53 627.8v-7M1452.52 627.8v-3.5M1473.52 627.8v-3.5M1494.52 627.8v-3.5M1515.52 627.8v-3.5M1536.51 627.8v-7M1557.51 627.8v-3.5M1578.51 627.8v-3.5M1599.5 627.8v-3.5M1620.5 627.8v-3.5M927.6 627.8h7M927.6 561.58h7M927.6 495.37h7M927.6 429.15h7" stroke="#303030" stroke-width="1.1" fill="none"/>
<text xml:space="preserve" x="1011.74" y="654.4" font-size="20.6" text-anchor="middle" class="a t">1990</text>
<text xml:space="preserve" x="1116.72" y="654.4" font-size="20.6" text-anchor="middle" class="a t">1995</text>
<text xml:space="preserve" x="1221.71" y="654.4" font-size="20.6" text-anchor="middle" class="a t">2000</text>
<text xml:space="preserve" x="1326.69" y="654.4" font-size="20.6" text-anchor="middle" class="a t">2005</text>
<text xml:space="preserve" x="1431.68" y="654.4" font-size="20.6" text-anchor="middle" class="a t">2010</text>
<text xml:space="preserve" x="1536.66" y="654.4" font-size="20.6" text-anchor="middle" class="a t">2015</text>
<text xml:space="preserve" x="918.1" y="635.2" font-size="20.6" text-anchor="end" class="a t">3.5</text>
<text xml:space="preserve" x="918.1" y="568.98" font-size="20.6" text-anchor="end" class="a t">4</text>
<text xml:space="preserve" x="918.1" y="502.77" font-size="20.6" text-anchor="end" class="a t">4.5</text>
<text xml:space="preserve" x="918.1" y="436.55" font-size="20.6" text-anchor="end" class="a t">5</text>
<text xml:space="preserve" y="371.95" font-size="19.9" class="k ti"><tspan x="937.2">(f) </tspan><tspan x="960.9" style="letter-spacing:0px">PERSIAN</tspan><tspan>    </tspan><tspan x="1074.5" style="letter-spacing:0.5px">Wind Speed</tspan></text>
<text xml:space="preserve" transform="translate(878.7 498.62) rotate(-90) scale(0.98 1)" font-size="22.4" text-anchor="middle" class="a"><tspan class="i">w</tspan> (ms<tspan font-size="17.92" dy="-11.7">-1</tspan><tspan dy="11.7">)</tspan></text>
<text xml:space="preserve" y="561.7" font-size="19.2" class="k"><tspan x="1178.8">88-00: <tspan dx="1.34">-</tspan>14 (<tspan dx="-0.38">-</tspan>9%) </tspan><tspan x="1323.75" class="pm" font-size="19.78">±</tspan><tspan x="1339.85">26 cms</tspan><tspan x="1402.62" dy="-8.74" font-size="13.44" style="letter-spacing:1.61px">-1</tspan><tspan x="1416.84" dy="8.74">/dec   </tspan><tspan x="1470.18" style="letter-spacing:-0.38px">(<tspan class="i">p&gt;0.1</tspan>)</tspan></text>
<text xml:space="preserve" y="586.7" font-size="19.2" class="r"><tspan x="1178.8">01-18: <tspan dx="1.34">-</tspan>39 (<tspan dx="-0.38">-</tspan>24%) </tspan><tspan x="1334.42" class="pm" font-size="19.78">±</tspan><tspan x="1350.52">14 cms</tspan><tspan x="1413.29" dy="-8.74" font-size="13.44" style="letter-spacing:1.61px">-1</tspan><tspan x="1427.52" dy="8.74">/dec   </tspan><tspan x="1480.86" style="letter-spacing:-0.38px">(<tspan class="i">p&lt;0.1</tspan>)</tspan></text>
<text xml:space="preserve" y="621.4" font-size="25.6" class="k"><tspan x="1168.7">88-18: <tspan dx="1.79">-</tspan>8 (<tspan dx="-0.51">-</tspan>5%) </tspan><tspan x="1347.62" class="pm" font-size="26.37">±</tspan><tspan x="1369.19"> 9 cms</tspan><tspan x="1445.76" dy="-11.65" font-size="17.92" style="letter-spacing:2.15px">-1</tspan><tspan x="1464.72" dy="11.65">/dec   </tspan><tspan x="1535.84" style="letter-spacing:-0.51px">(<tspan class="i">p&gt;0.1</tspan>)</tspan></text>
</g>
<g>
<path d="M1011.59 696.9V948M1116.57 696.9V948M1221.56 696.9V948M1326.54 696.9V948M1431.53 696.9V948M1536.51 696.9V948M927.6 948H1620.5M927.6 843.6H1620.5M927.6 739.2H1620.5" stroke="#262626" stroke-opacity="0.15" stroke-width="1" fill="none"/>
<polygon points="969.59,799.13 990.59,754.44 1011.59,750.06 1032.58,842.56 1053.58,813.53 1074.58,796 1095.58,799.96 1116.57,836.29 1137.57,768.85 1158.57,849.03 1179.56,793.49 1200.56,737.95 1221.56,795.16 1242.55,798.92 1263.55,791.19 1284.55,818.34 1305.55,769.48 1326.54,792.86 1347.54,786.81 1368.54,792.45 1389.53,790.57 1410.53,823.77 1431.53,811.24 1452.52,790.57 1473.52,807.48 1494.52,756.95 1515.52,793.49 1536.51,850.28 1557.51,782.01 1578.51,779.08 1599.5,807.27 1599.5,860.31 1578.51,832.12 1557.51,835.04 1536.51,903.32 1515.52,846.52 1494.52,809.98 1473.52,860.51 1452.52,843.6 1431.53,864.27 1410.53,876.8 1389.53,843.6 1368.54,845.48 1347.54,839.84 1326.54,845.9 1305.55,822.51 1284.55,871.37 1263.55,844.23 1242.55,851.95 1221.56,848.19 1200.56,790.98 1179.56,846.52 1158.57,902.06 1137.57,821.89 1116.57,889.33 1095.58,853 1074.58,849.03 1053.58,866.57 1032.58,895.59 1011.59,803.09 990.59,807.48 969.59,852.16" fill="#eeeeee" fill-opacity="0.76"/>
<polyline points="969.59,825.64 990.59,780.96 1011.59,776.58 1032.58,869.07 1053.58,840.05 1074.58,822.51 1095.58,826.48 1116.57,862.81 1137.57,795.37 1158.57,875.55 1179.56,820.01 1200.56,764.47 1221.56,821.68 1242.55,825.44 1263.55,817.71 1284.55,844.85 1305.55,796 1326.54,819.38 1347.54,813.33 1368.54,818.96 1389.53,817.08 1410.53,850.28 1431.53,837.75 1452.52,817.08 1473.52,834 1494.52,783.47 1515.52,820.01 1536.51,876.8 1557.51,808.52 1578.51,805.6 1599.5,833.79" fill="none" stroke="#000" stroke-width="2" stroke-linejoin="round"/>
<line x1="969.59" y1="820.63" x2="1599.5" y2="825.23" stroke="#ff0000" stroke-width="1.2"/>
<line x1="969.59" y1="820.22" x2="1242.55" y2="822.93" stroke="#0000ff" stroke-width="1.3" stroke-dasharray="9.6 6.5"/>
<line x1="1242.55" y1="822.1" x2="1599.5" y2="825.44" stroke="#0000ff" stroke-width="1.3" stroke-dasharray="9.6 6.5"/>
<path d="M927.6 696.9V948H1620.5M948.6 948v-3.5M969.59 948v-3.5M990.59 948v-3.5M1011.59 948v-7M1032.58 948v-3.5M1053.58 948v-3.5M1074.58 948v-3.5M1095.58 948v-3.5M1116.57 948v-7M1137.57 948v-3.5M1158.57 948v-3.5M1179.56 948v-3.5M1200.56 948v-3.5M1221.56 948v-7M1242.55 948v-3.5M1263.55 948v-3.5M1284.55 948v-3.5M1305.55 948v-3.5M1326.54 948v-7M1347.54 948v-3.5M1368.54 948v-3.5M1389.53 948v-3.5M1410.53 948v-3.5M1431.53 948v-7M1452.52 948v-3.5M1473.52 948v-3.5M1494.52 948v-3.5M1515.52 948v-3.5M1536.51 948v-7M1557.51 948v-3.5M1578.51 948v-3.5M1599.5 948v-3.5M1620.5 948v-3.5M927.6 948h7M927.6 843.6h7M927.6 739.2h7" stroke="#303030" stroke-width="1.1" fill="none"/>
<text xml:space="preserve" x="1011.74" y="974.6" font-size="20.6" text-anchor="middle" class="a t">1990</text>
<text xml:space="preserve" x="1116.72" y="974.6" font-size="20.6" text-anchor="middle" class="a t">1995</text>
<text xml:space="preserve" x="1221.71" y="974.6" font-size="20.6" text-anchor="middle" class="a t">2000</text>
<text xml:space="preserve" x="1326.69" y="974.6" font-size="20.6" text-anchor="middle" class="a t">2005</text>
<text xml:space="preserve" x="1431.68" y="974.6" font-size="20.6" text-anchor="middle" class="a t">2010</text>
<text xml:space="preserve" x="1536.66" y="974.6" font-size="20.6" text-anchor="middle" class="a t">2015</text>
<text xml:space="preserve" x="918.1" y="955.4" font-size="20.6" text-anchor="end" class="a t">5.5</text>
<text xml:space="preserve" x="918.1" y="851" font-size="20.6" text-anchor="end" class="a t">6</text>
<text xml:space="preserve" x="918.1" y="746.6" font-size="20.6" text-anchor="end" class="a t">6.5</text>
<text xml:space="preserve" y="692" font-size="19.9" class="k ti"><tspan x="937.2">(g) </tspan><tspan x="967.4" style="letter-spacing:0.25px">ARABIAN</tspan><tspan>    </tspan><tspan x="1081.3" style="letter-spacing:0.5px">Wind Speed</tspan></text>
<text xml:space="preserve" transform="translate(878.7 819.15) rotate(-90) scale(0.98 1)" font-size="22.4" text-anchor="middle" class="a"><tspan class="i">w</tspan> (ms<tspan font-size="17.92" dy="-11.7">-1</tspan><tspan dy="11.7">)</tspan></text>
<text xml:space="preserve" y="881.8" font-size="19.2" class="k"><tspan x="1178.8">88-00: <tspan dx="1.34">-</tspan>1 (<tspan dx="-0.38">-</tspan>1%) </tspan><tspan x="1313.07" class="pm" font-size="19.78">±</tspan><tspan x="1329.17">18 cms</tspan><tspan x="1391.94" dy="-8.74" font-size="13.44" style="letter-spacing:1.61px">-1</tspan><tspan x="1406.16" dy="8.74">/dec   </tspan><tspan x="1459.5" style="letter-spacing:-0.38px">(<tspan class="i">p&gt;0.1</tspan>)</tspan></text>
<text xml:space="preserve" y="906.8" font-size="19.2" class="k"><tspan x="1178.8">01-18: <tspan dx="1.34">-</tspan>1 (<tspan dx="-0.38">-</tspan>1%) </tspan><tspan x="1313.07" class="pm" font-size="19.78">±</tspan><tspan x="1329.17"> 8 cms</tspan><tspan x="1386.59" dy="-8.74" font-size="13.44" style="letter-spacing:1.61px">-1</tspan><tspan x="1400.82" dy="8.74">/dec   </tspan><tspan x="1454.16" style="letter-spacing:-0.38px">(<tspan class="i">p&gt;0.1</tspan>)</tspan></text>
<text xml:space="preserve" y="941.5" font-size="25.6" class="k"><tspan x="1168.7">88-18: <tspan dx="1.79">-</tspan>1 (<tspan dx="-0.51">-</tspan>0%) </tspan><tspan x="1347.62" class="pm" font-size="26.37">±</tspan><tspan x="1369.19"> 4 cms</tspan><tspan x="1445.76" dy="-11.65" font-size="17.92" style="letter-spacing:2.15px">-1</tspan><tspan x="1464.72" dy="11.65">/dec   </tspan><tspan x="1535.84" style="letter-spacing:-0.51px">(<tspan class="i">p&gt;0.1</tspan>)</tspan></text>
</g>
<g>
<path d="M1011.59 1016.9V1267.9M1116.57 1016.9V1267.9M1221.56 1016.9V1267.9M1326.54 1016.9V1267.9M1431.53 1016.9V1267.9M1536.51 1016.9V1267.9M927.6 1267.9H1620.5M927.6 1194.27H1620.5M927.6 1120.63H1620.5M927.6 1047H1620.5" stroke="#262626" stroke-opacity="0.15" stroke-width="1" fill="none"/>
<polygon points="969.59,1115.04 990.59,1078.81 1011.59,1043.76 1032.58,1081.17 1053.58,1120.34 1074.58,1116.66 1095.58,1067.18 1116.57,1110.62 1137.57,1087.94 1158.57,1137.28 1179.56,1135.95 1200.56,1023.73 1221.56,1082.49 1242.55,1105.91 1263.55,1090.89 1284.55,1075.72 1305.55,1079.99 1326.54,1084.41 1347.54,1091.33 1368.54,1084.85 1389.53,1090.15 1410.53,1095.75 1431.53,1131.24 1452.52,1082.93 1473.52,1077.63 1494.52,1047.88 1515.52,1096.92 1536.51,1121.81 1557.51,1090.89 1578.51,1098.1 1599.5,1102.52 1599.5,1151.41 1578.51,1146.99 1557.51,1139.78 1536.51,1170.7 1515.52,1145.82 1494.52,1096.78 1473.52,1126.52 1452.52,1131.83 1431.53,1180.13 1410.53,1144.64 1389.53,1139.04 1368.54,1133.74 1347.54,1140.22 1326.54,1133.3 1305.55,1128.88 1284.55,1124.61 1263.55,1139.78 1242.55,1154.8 1221.56,1131.38 1200.56,1072.63 1179.56,1184.84 1158.57,1186.17 1137.57,1136.83 1116.57,1159.51 1095.58,1116.07 1074.58,1165.55 1053.58,1169.23 1032.58,1130.06 1011.59,1092.65 990.59,1127.7 969.59,1163.93" fill="#eeeeee" fill-opacity="0.76"/>
<polyline points="969.59,1139.48 990.59,1103.26 1011.59,1068.21 1032.58,1105.61 1053.58,1144.79 1074.58,1141.1 1095.58,1091.62 1116.57,1135.07 1137.57,1112.39 1158.57,1161.72 1179.56,1160.4 1200.56,1048.18 1221.56,1106.94 1242.55,1130.35 1263.55,1115.33 1284.55,1100.16 1305.55,1104.43 1326.54,1108.85 1347.54,1115.77 1368.54,1109.29 1389.53,1114.6 1410.53,1120.19 1431.53,1155.68 1452.52,1107.38 1473.52,1102.08 1494.52,1072.33 1515.52,1121.37 1536.51,1146.26 1557.51,1115.33 1578.51,1122.55 1599.5,1126.97" fill="none" stroke="#000" stroke-width="2" stroke-linejoin="round"/>
<line x1="969.59" y1="1116.07" x2="1599.5" y2="1117.25" stroke="#ff0000" stroke-width="1.2"/>
<line x1="969.59" y1="1116.07" x2="1242.55" y2="1120.19" stroke="#0000ff" stroke-width="1.3" stroke-dasharray="9.6 6.5"/>
<line x1="1242.55" y1="1112.39" x2="1599.5" y2="1120.19" stroke="#0000ff" stroke-width="1.3" stroke-dasharray="9.6 6.5"/>
<path d="M927.6 1016.9V1267.9H1620.5M948.6 1267.9v-3.5M969.59 1267.9v-3.5M990.59 1267.9v-3.5M1011.59 1267.9v-7M1032.58 1267.9v-3.5M1053.58 1267.9v-3.5M1074.58 1267.9v-3.5M1095.58 1267.9v-3.5M1116.57 1267.9v-7M1137.57 1267.9v-3.5M1158.57 1267.9v-3.5M1179.56 1267.9v-3.5M1200.56 1267.9v-3.5M1221.56 1267.9v-7M1242.55 1267.9v-3.5M1263.55 1267.9v-3.5M1284.55 1267.9v-3.5M1305.55 1267.9v-3.5M1326.54 1267.9v-7M1347.54 1267.9v-3.5M1368.54 1267.9v-3.5M1389.53 1267.9v-3.5M1410.53 1267.9v-3.5M1431.53 1267.9v-7M1452.52 1267.9v-3.5M1473.52 1267.9v-3.5M1494.52 1267.9v-3.5M1515.52 1267.9v-3.5M1536.51 1267.9v-7M1557.51 1267.9v-3.5M1578.51 1267.9v-3.5M1599.5 1267.9v-3.5M1620.5 1267.9v-3.5M927.6 1267.9h7M927.6 1194.27h7M927.6 1120.63h7M927.6 1047h7" stroke="#303030" stroke-width="1.1" fill="none"/>
<text xml:space="preserve" x="1011.74" y="1294.5" font-size="20.6" text-anchor="middle" class="a t">1990</text>
<text xml:space="preserve" x="1116.72" y="1294.5" font-size="20.6" text-anchor="middle" class="a t">1995</text>
<text xml:space="preserve" x="1221.71" y="1294.5" font-size="20.6" text-anchor="middle" class="a t">2000</text>
<text xml:space="preserve" x="1326.69" y="1294.5" font-size="20.6" text-anchor="middle" class="a t">2005</text>
<text xml:space="preserve" x="1431.68" y="1294.5" font-size="20.6" text-anchor="middle" class="a t">2010</text>
<text xml:space="preserve" x="1536.66" y="1294.5" font-size="20.6" text-anchor="middle" class="a t">2015</text>
<text xml:space="preserve" x="918.1" y="1275.3" font-size="20.6" text-anchor="end" class="a t">5</text>
<text xml:space="preserve" x="918.1" y="1201.67" font-size="20.6" text-anchor="end" class="a t">5.5</text>
<text xml:space="preserve" x="918.1" y="1128.03" font-size="20.6" text-anchor="end" class="a t">6</text>
<text xml:space="preserve" x="918.1" y="1054.4" font-size="20.6" text-anchor="end" class="a t">6.5</text>
<text xml:space="preserve" y="1011.4" font-size="19.9" class="k ti"><tspan x="937.2">(h) </tspan><tspan x="965.8" style="letter-spacing:0.8px">BoB</tspan><tspan>    </tspan><tspan x="1031.6" style="letter-spacing:0.5px">Wind Speed</tspan></text>
<text xml:space="preserve" transform="translate(878.7 1139.1) rotate(-90) scale(0.98 1)" font-size="22.4" text-anchor="middle" class="a"><tspan class="i">w</tspan> (ms<tspan font-size="17.92" dy="-11.7">-1</tspan><tspan dy="11.7">)</tspan></text>
<text xml:space="preserve" y="1202.7" font-size="19.2" class="k"><tspan x="1178.8">88-00: <tspan dx="1.34">-</tspan>2 (<tspan dx="-0.38">-</tspan>1%) </tspan><tspan x="1313.07" class="pm" font-size="19.78">±</tspan><tspan x="1329.17">26 cms</tspan><tspan x="1391.94" dy="-8.74" font-size="13.44" style="letter-spacing:1.61px">-1</tspan><tspan x="1406.16" dy="8.74">/dec   </tspan><tspan x="1459.5" style="letter-spacing:-0.38px">(<tspan class="i">p&gt;0.1</tspan>)</tspan></text>
<text xml:space="preserve" y="1227.7" font-size="19.2" class="k"><tspan x="1178.8">01-18: <tspan dx="1.34">-</tspan>3 (<tspan dx="-0.38">-</tspan>2%) </tspan><tspan x="1313.07" class="pm" font-size="19.78">±</tspan><tspan x="1329.17"> 9 cms</tspan><tspan x="1386.59" dy="-8.74" font-size="13.44" style="letter-spacing:1.61px">-1</tspan><tspan x="1400.82" dy="8.74">/dec   </tspan><tspan x="1454.16" style="letter-spacing:-0.38px">(<tspan class="i">p&gt;0.1</tspan>)</tspan></text>
<text xml:space="preserve" y="1262.4" font-size="25.6" class="k"><tspan x="1168.7">88-18: <tspan dx="1.79">-</tspan>0 (<tspan dx="-0.51">-</tspan>0%) </tspan><tspan x="1347.62" class="pm" font-size="26.37">±</tspan><tspan x="1369.19"> 6 cms</tspan><tspan x="1445.76" dy="-11.65" font-size="17.92" style="letter-spacing:2.15px">-1</tspan><tspan x="1464.72" dy="11.65">/dec   </tspan><tspan x="1535.84" style="letter-spacing:-0.51px">(<tspan class="i">p&gt;0.1</tspan>)</tspan></text>
</g>
</g>
</svg>
</body></html>
